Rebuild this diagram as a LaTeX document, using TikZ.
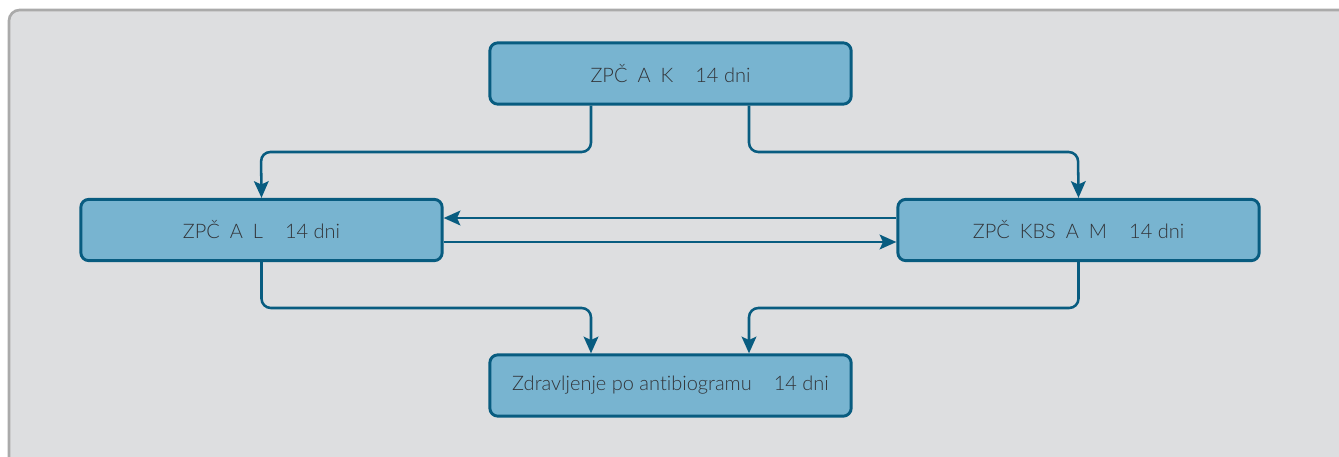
\documentclass[tikz,border=0pt]{standalone}
\usepackage{fontspec}
\setmainfont{Lato}[UprightFont=* Light, Ligatures=NoCommon]
\usetikzlibrary{arrows.meta}
\definecolor{panel}{RGB}{221, 222, 224}
\definecolor{frame}{RGB}{170, 170, 170}
\definecolor{boxfill}{RGB}{120, 180, 208}
\definecolor{boxline}{RGB}{8, 92, 128}
\definecolor{ink}{RGB}{50, 52, 56}

\tikzset{
  phase/.style={draw=boxline, fill=boxfill, line width=2.2pt, rounded corners=6pt,
    minimum width=271pt, minimum height=46pt, inner sep=0pt,
    text=ink, font=\fontsize{15}{18}\selectfont},
  flow/.style={boxline, line width=1.9pt, rounded corners=7pt,
    -{Stealth[length=12.5pt, width=11pt, inset=2.5pt]}}
}

\newcommand{\gap}{\hspace{0.5em}}
\newcommand{\lgap}{\hspace{1.1em}}

\begin{document}
\begin{tikzpicture}[x=0.75pt, y=-0.75pt]

  \clip (0, 0) rectangle (1339, 457);
  \useasboundingbox (0, 0) rectangle (1339, 457);
  \fill[white] (0, 0) rectangle (1339, 457);
  \draw[frame, fill=panel, line width=2pt, rounded corners=8pt] (9, 10) rectangle (1380, 500);

  \node[phase] (ak)  at (670.5, 73.5)  {ZPČ\gap A\gap K\lgap 14 dni};
  \node[phase] (al)  at (261.5, 230)   {ZPČ\gap A\gap L\lgap 14 dni};
  \node[phase] (kbs) at (1078.5, 230)  {ZPČ\gap KBS\gap A\gap M\lgap 14 dni};
  \node[phase] (abg) at (670.5, 385.5) {Zdravljenje po antibiogramu\lgap 14 dni};

  % od zgoraj navzdol
  \draw[flow] (ak.south -| 591, 0) |- (261, 152) -- (al.north);
  \draw[flow] (ak.south -| 749, 0) |- (1078, 152) -- (kbs.north);

  % med stranskima
  \draw[flow] (kbs.west |- 0, 218) -- (al.east |- 0, 218);
  \draw[flow] (al.east |- 0, 242) -- (kbs.west |- 0, 242);

  % proti zdravljenju
  \draw[flow] (al.south) |- (591, 308) -- (abg.north -| 591, 0);
  \draw[flow] (kbs.south) |- (749, 308) -- (abg.north -| 749, 0);

\end{tikzpicture}
\end{document}
